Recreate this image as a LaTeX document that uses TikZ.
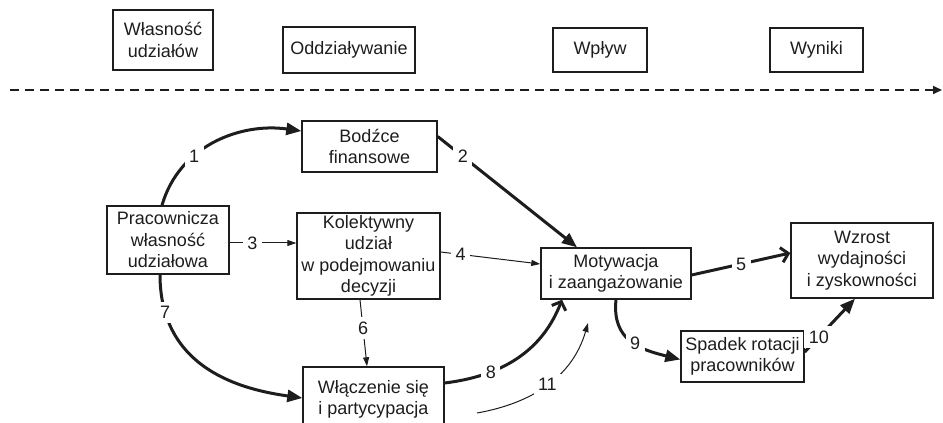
\documentclass[tikz,border=0pt]{standalone}
\usepackage{fontspec}
\setmainfont{Liberation Sans}
\usepackage{tikz}
\usetikzlibrary{positioning,arrows.meta}
\definecolor{ink}{RGB}{30,28,29}
\tikzset{
  box/.style   = {draw=ink, line width=1.4pt, align=center, inner sep=1pt, text=ink},
  flow/.style  = {-{Triangle[length=15pt,width=12pt]}, line width=3pt, draw=ink},
  bflow/.style = {-{Straight Barb[length=7pt,width=15pt]}, line width=3pt, draw=ink},
  lflow/.style = {-{Triangle[length=9pt,width=6pt]}, line width=1pt, draw=ink},
  axis/.style  = {-{Triangle[length=9pt,width=8pt]}, line width=1.8pt, draw=ink, dash pattern=on 9pt off 6pt},
  num/.style   = {fill=white, inner sep=4.5pt, text=ink},
}

\begin{document}
\begin{tikzpicture}[x=1pt, y=1pt, font=\fontsize{18}{21.5}\selectfont]
  \useasboundingbox (0,0) rectangle (943,423);
  \clip (0,0) rectangle (943,423);

  \node[box, minimum width=100pt, minimum height=60pt] (own) at (163,383) {Własność\\udziałów};
  \node[box, minimum width=132pt, minimum height=46pt] (impact) at (349,373) {Oddziaływanie};
  \node[box, minimum width=94pt, minimum height=44pt] (effect) at (600,373) {Wpływ};
  \node[box, minimum width=93pt, minimum height=44pt] (results) at (816.5,373) {Wyniki};
  \coordinate (t0) at (10,333); \coordinate (t1) at (942,333);
  \draw[axis] (t0) -- (t1);

  \node[box, minimum width=122pt, minimum height=68pt] (esop) at (168,183) {Pracownicza\\własność\\udziałowa};
  \node[box, minimum width=135pt, minimum height=51pt] (incent) at (369.5,276.5) {Bodźce\\finansowe};
  \node[box, minimum width=143pt, minimum height=86pt] (collect) at (368.5,167) {Kolektywny\\udział\\w podejmowaniu\\decyzji};
  \node[box, minimum width=141pt, minimum height=65pt] (involve) at (373.5,23.5) {Włączenie się\\i partycypacja};
  \node[box, minimum width=150pt, minimum height=51pt] (motiv) at (616,149.5) {Motywacja\\i zaangażowanie};
  \node[box, minimum width=123pt, minimum height=51pt] (turnover) at (742.5,66.5) {Spadek rotacji\\pracowników};
  \node[box, minimum width=142pt, minimum height=75pt] (growth) at (862,162.5) {Wzrost\\wydajności\\i zyskowności};
  \coordinate (p11) at (477,10); \coordinate (k11) at (588,100);

  \draw[flow] ([xshift=-6pt]esop.north) to[out=74, in=172] node[num, pos=.35] {1} ([yshift=15.5pt]incent.west);
  \draw[flow] ([yshift=10pt]incent.east) -- node[num, pos=.18] {2} ([xshift=-39pt]motiv.north);
  \draw[lflow] ([yshift=-3pt]esop.east) -- node[num, pos=.34] {3} ([yshift=13pt]collect.west);
  \draw[lflow] ([yshift=4pt]collect.east) -- node[num, pos=.2] {4} ([yshift=9.5pt]motiv.west);
  \draw[bflow] ([yshift=-1.5pt]motiv.east) -- node[num, pos=.5] {5} ([yshift=7.5pt]growth.west);
  \draw[lflow] ([xshift=-8.5pt]collect.south) -- node[num, pos=.43] {6} ([xshift=-6.5pt]involve.north);
  \draw[flow] ([xshift=-8pt]esop.south) to[out=-90, in=172, out distance=95pt, in distance=60pt] node[num, pos=.15] {7} ([yshift=1.5pt]involve.west);
  \draw[bflow] ([yshift=16.5pt]involve.east) to[out=7, in=-111] node[num, pos=.3] {8} ([xshift=-54pt]motiv.south);
  \draw[flow] (motiv.south) to[out=-96, in=166, looseness=1.2] node[num, pos=.55] {9} ([yshift=-3pt]turnover.west);
  \draw[flow] ([yshift=4.5pt]turnover.east) -- node[num, pos=.28] {10} ([xshift=-7pt]growth.south);
  \draw[lflow] (p11) to[out=10, in=-106] node[num, pos=.5] {11} (k11);
\end{tikzpicture}
\end{document}
